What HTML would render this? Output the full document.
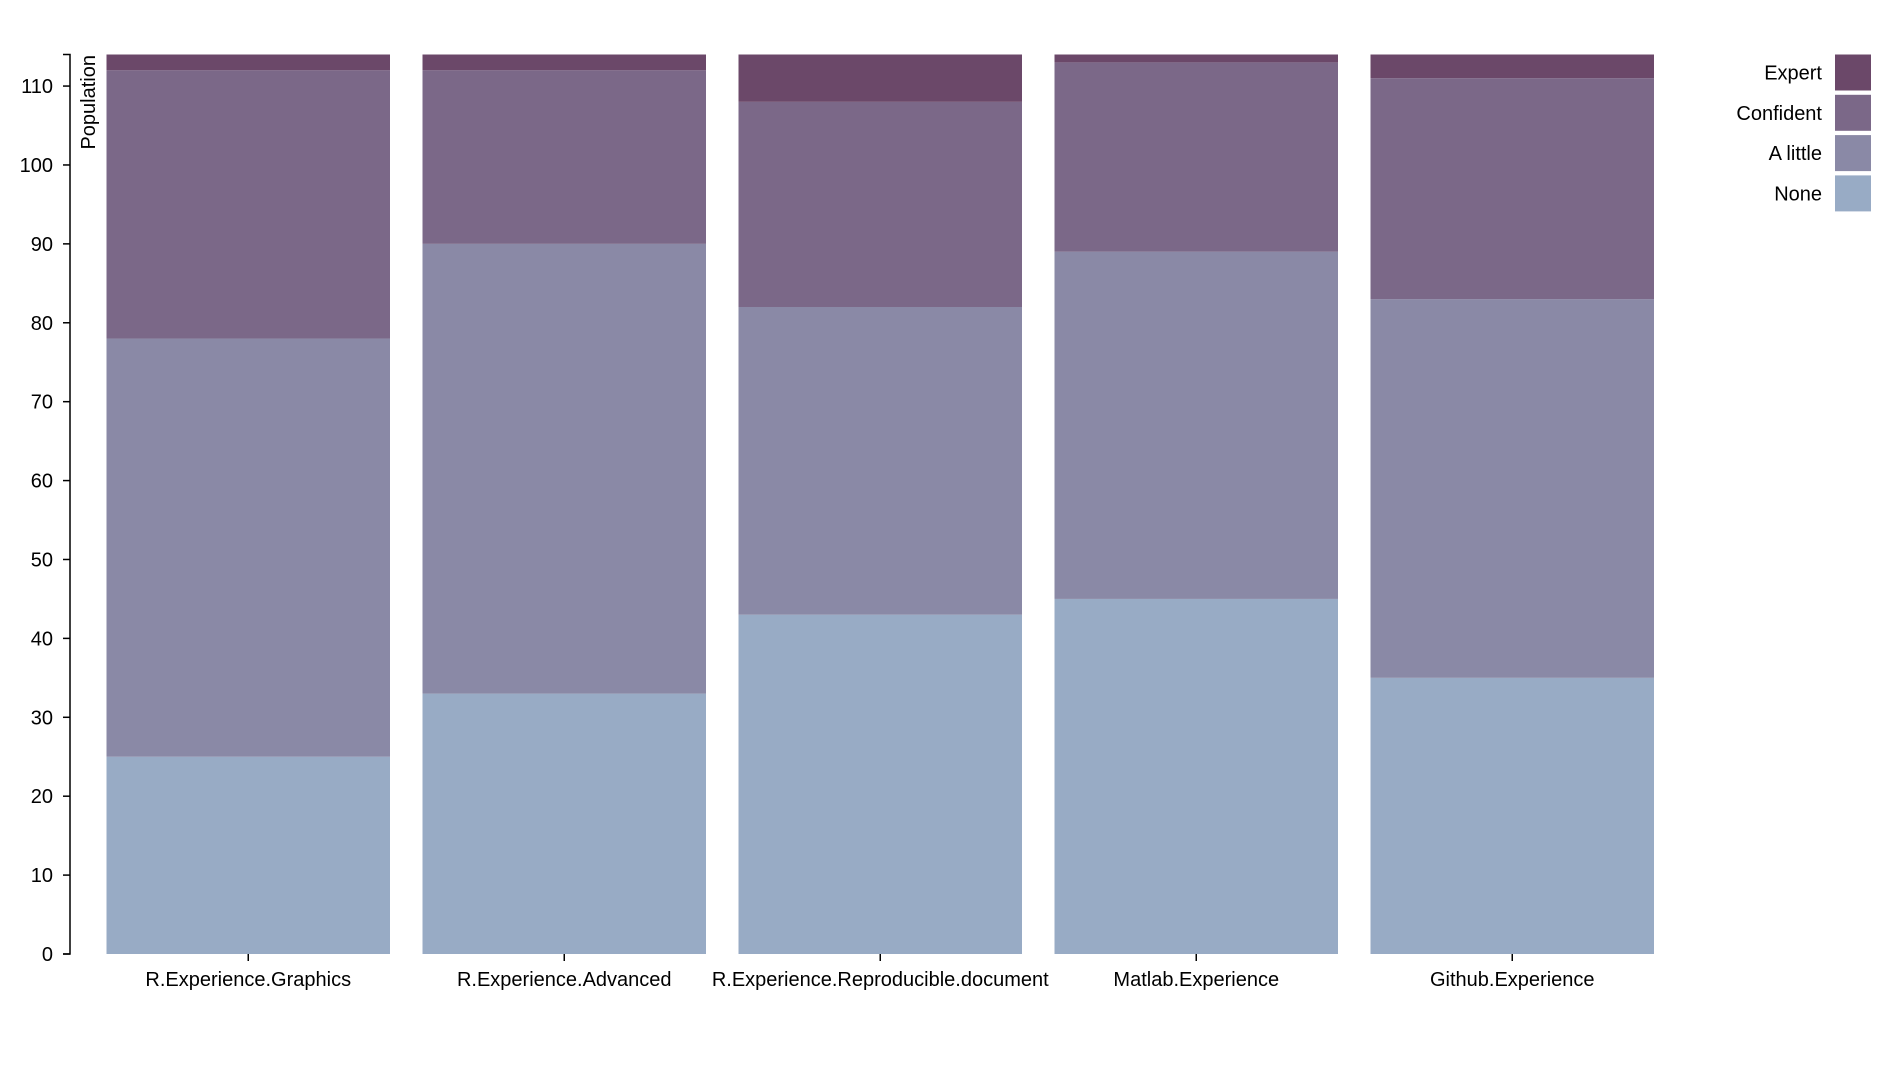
<!DOCTYPE html>
<html><head><meta charset="utf-8"><style>
body{margin:0;background:#fff}
text{font-family:"Liberation Sans",sans-serif;font-size:20px;fill:#000}
</style></head><body>
<svg id="chart" width="1898" height="1060" xmlns="http://www.w3.org/2000/svg"></svg>
<script>
const categories=["R.Experience.Graphics","R.Experience.Advanced","R.Experience.Reproducible.document","Matlab.Experience","Github.Experience"];
const seriesNames=["None","A little","Confident","Expert"];
const noneVals=[25,33,43,45,35];
const aLittleVals=[53,57,39,44,48];
const confidentVals=[34,22,26,24,28];
const expertVals=[2,2,6,1,3];
const yTicks=[0,10,20,30,40,50,60,70,80,90,100,110];
const colors=["#98abc5","#8a89a6","#7b6888","#6b4869"];
const series=[noneVals,aLittleVals,confidentVals,expertVals];
const NS="http://www.w3.org/2000/svg";
const svg=document.getElementById('chart');
const x0=106.5,step=316,bw=283.5,yB=954,yT=54.5;
const totals=categories.map((c,i)=>series.reduce((s,a)=>s+a[i],0));
const yMax=Math.max(...totals);
const y=v=>yB-(v/yMax)*(yB-yT);
const xb=i=>x0+i*step;
function el(t,a){const e=document.createElementNS(NS,t);for(const k in a)e.setAttribute(k,a[k]);svg.appendChild(e);return e;}
categories.forEach((c,i)=>{let base=0;series.forEach((s,j)=>{
 const r=el('rect',{x:xb(i),y:y(base+s[i]),width:bw,height:y(base)-y(base+s[i]),fill:colors[j]});
 
 
 base+=s[i];});
 const t=el('line',{x1:xb(i)+bw/2,x2:xb(i)+bw/2,y1:yB,y2:yB+7,stroke:'#000','stroke-width':1.5});
 
 
 const l=el('text',{x:xb(i)+bw/2,y:986,'text-anchor':'middle'});l.textContent=c;
 
 
});
const ax=el('path',{d:`M63,${yT}H70V${yB}H63`,fill:'none',stroke:'#000','stroke-width':1.5});


yTicks.forEach(v=>{
 const t=el('line',{x1:63,x2:70,y1:y(v),y2:y(v),stroke:'#000','stroke-width':1.5});
 
 
 const l=el('text',{x:53,y:y(v)+7,'text-anchor':'end'});l.textContent=v;
 
 
});
const yt=el('text',{transform:'rotate(-90)',x:-55,y:95,'text-anchor':'end','font-size':'18'});yt.textContent='Population';


[3,2,1,0].forEach((j,k)=>{
 const r=el('rect',{x:1835,y:54.5+k*40.3,width:36,height:36,fill:colors[j]});
 
 
 const l=el('text',{x:1822,y:79.5+k*40.3,'text-anchor':'end'});l.textContent=seriesNames[j];
 
 
});
</script>
</body></html>
